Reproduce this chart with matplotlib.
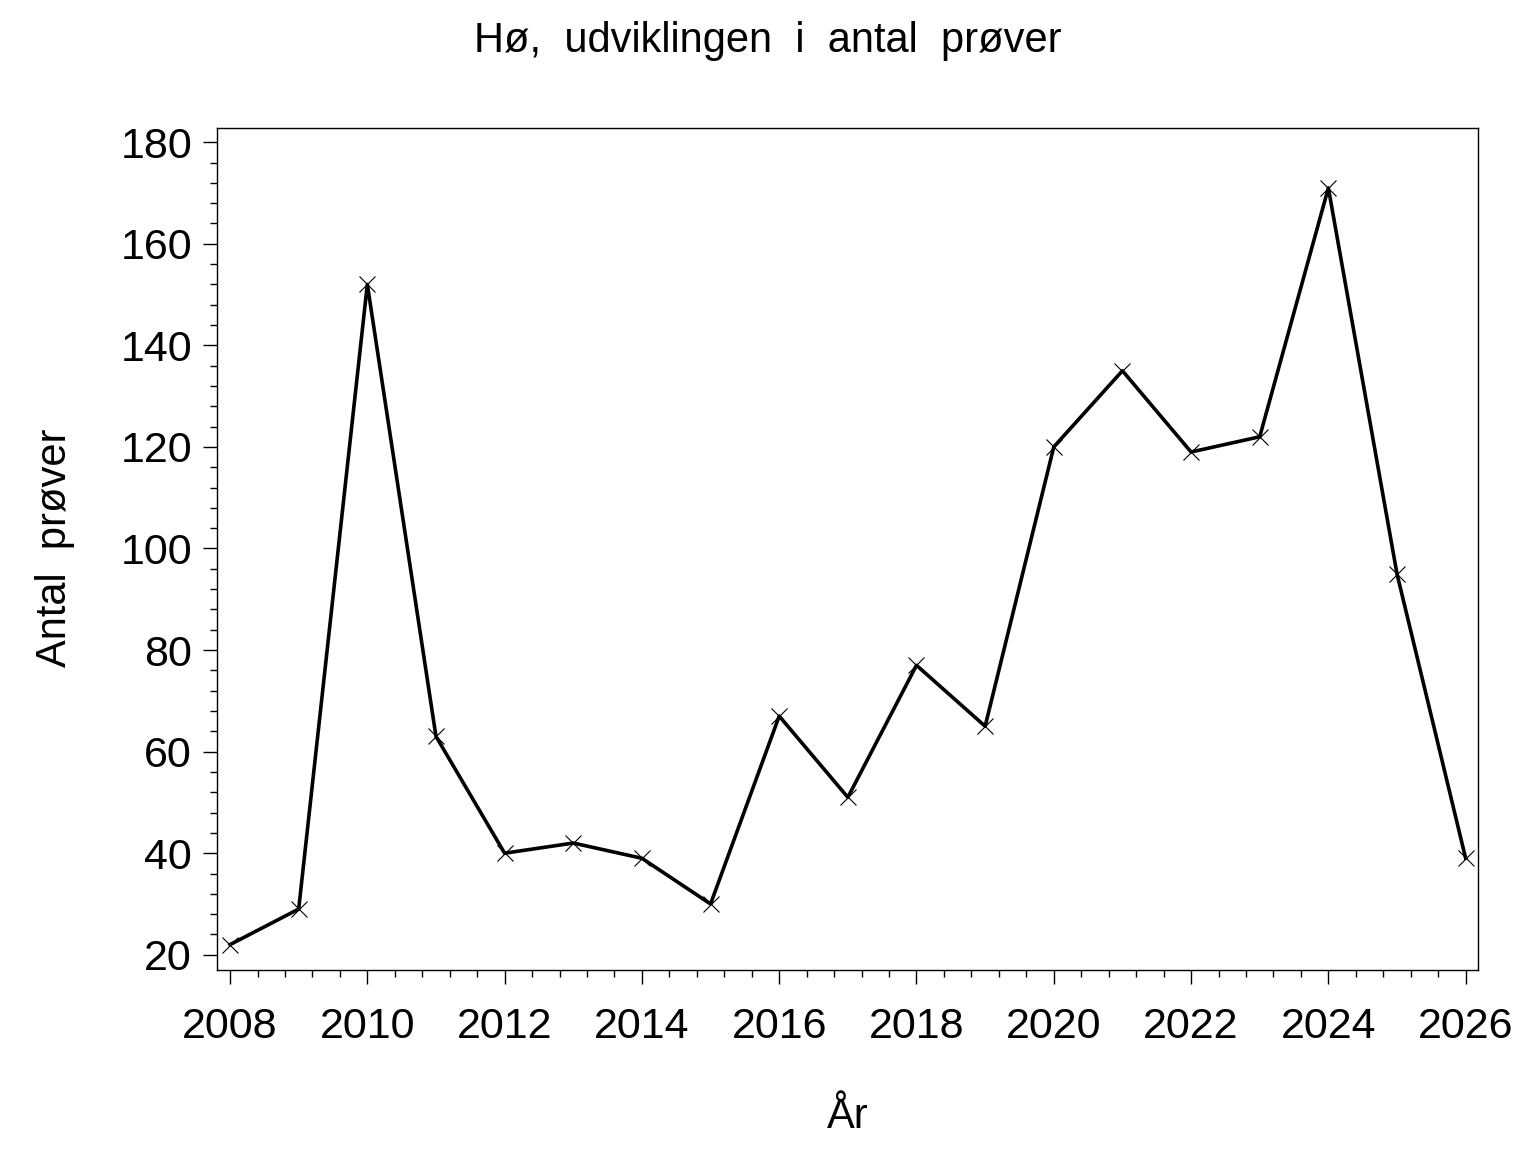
import matplotlib
matplotlib.use('Agg')
import matplotlib.pyplot as plt
from matplotlib.ticker import MultipleLocator

plt.rcParams['font.family'] = ['Liberation Sans', 'DejaVu Sans']

# Data
years = [2008, 2009, 2010, 2011, 2012, 2013, 2014, 2015, 2016, 2017,
         2018, 2019, 2020, 2021, 2022, 2023, 2024, 2025, 2026]
antal = [22, 29, 152, 63, 40, 42, 39, 30, 67, 51,
         77, 65, 120, 135, 119, 122, 171, 95, 39]

title = 'Hø,  udviklingen  i  antal  prøver'
xlabel = 'År'
ylabel = 'Antal  prøver'

fig = plt.figure(figsize=(15.36, 11.52), dpi=100)
ax = fig.add_axes([217/1536, 1 - 970/1152, (1478-217)/1536, (970-128)/1152])

ax.plot(years, antal, color='black', linewidth=2.6, marker='x',
        markersize=11.5, markeredgewidth=0.8)

ax.set_xlim(2007.81, 2026.18)
ax.set_ylim(17.0, 182.8)

ax.xaxis.set_major_locator(MultipleLocator(2))
ax.xaxis.set_minor_locator(MultipleLocator(0.4))
ax.yaxis.set_major_locator(MultipleLocator(20))
ax.yaxis.set_minor_locator(MultipleLocator(4))

ax.tick_params(which='major', direction='out', length=10, width=1.0,
               labelsize=31, colors='black')
ax.tick_params(which='minor', direction='out', length=5, width=1.0)
ax.tick_params(axis='x', which='major', pad=17)
ax.tick_params(axis='y', which='major', pad=8)

for s in ax.spines.values():
    s.set_linewidth(1.0)

fig.text(0.5, 1 - 52/1152, title, ha='center', va='baseline', fontsize=30)
fig.text(848/1536, 1 - 1128/1152, xlabel, ha='center', va='baseline', fontsize=30)
fig.text(55/1536, 1 - 548/1152, ylabel, ha='center', va='center',
         rotation=90, fontsize=30)

fig.savefig('out.png', dpi=100, facecolor='white')
